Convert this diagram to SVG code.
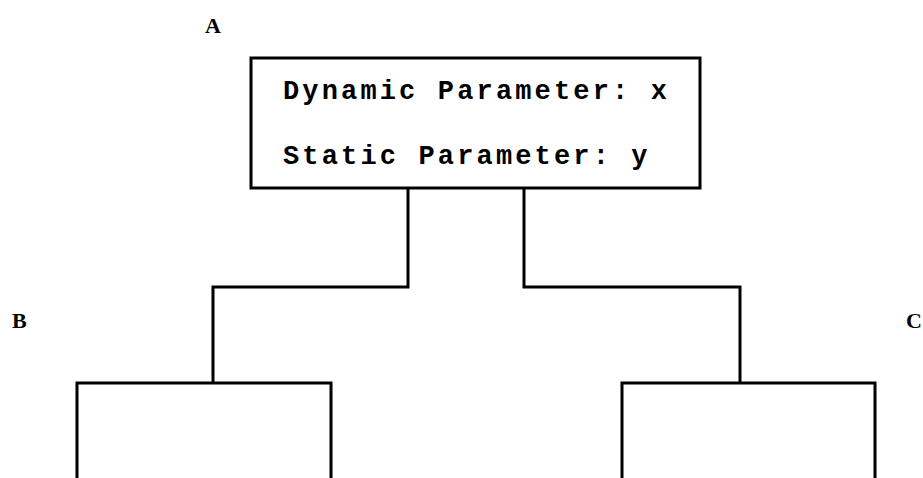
<svg xmlns="http://www.w3.org/2000/svg" width="923" height="478" viewBox="0 0 923 478">
  <style>
    .box { fill: #ffffff; stroke: #000000; stroke-width: 3; }
    .wire { fill: none; stroke: #000000; stroke-width: 3; stroke-linejoin: miter; }
    .label { font-family: "Liberation Serif", "Times New Roman", serif; font-weight: bold; font-size: 22px; fill: #000000; }
    .param { font-family: "Liberation Mono", "Courier New", monospace; font-weight: bold; font-size: 27px; letter-spacing: 3.15px; fill: #000000; }
  </style>
  <rect width="923" height="478" fill="#ffffff"/>

  <!-- connectors from the parent to both children -->
  <g id="connectors">
    <polyline class="wire" points="408,188 408,287 213,287 213,383"/>
    <polyline class="wire" points="524,188 524,287 740,287 740,383"/>
  </g>

  <g id="node-A">
    <text class="label" x="205" y="33">A</text>
    <rect class="box" x="251" y="58" width="449" height="130"/>
    <text class="param" x="283" y="99">Dynamic Parameter: x</text>
    <text class="param" x="283" y="164">Static Parameter: y</text>
  </g>

  <g id="node-B">
    <text class="label" x="12" y="328">B</text>
    <path class="box" d="M77,480 V383 H331 V480"/>
  </g>

  <g id="node-C">
    <text class="label" x="906" y="328">C</text>
    <path class="box" d="M622,480 V383 H875 V480"/>
  </g>
</svg>
